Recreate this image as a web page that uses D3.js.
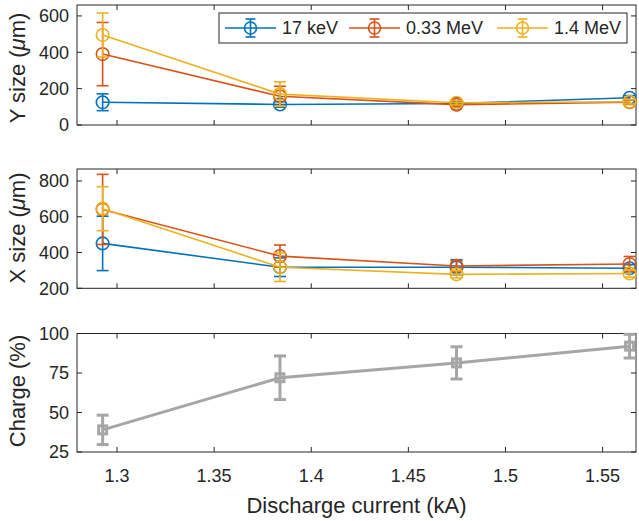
<!DOCTYPE html>
<html>
<head>
<meta charset="utf-8">
<script src="https://cdn.jsdelivr.net/npm/d3@7"></script>
<style>
  body { margin: 0; background: #fff; }
  svg { display: block; }
  text { font-family: "Liberation Sans", Arial, sans-serif; fill: #262626; }
</style>
</head>
<body>
<div id="content"></div>
<script>
// discharge current (kA)
const current = [1.2926, 1.3839, 1.4748, 1.5639];

const seriesNames = ['17 keV', '0.33 MeV', '1.4 MeV'];
const seriesColors = ['#0072BD', '#D95319', '#EDB120'];

// Y size (um)
const ySize17 = [125, 113, 118, 150];
const ySizeErr17 = [46, 15, 10, 12];
const ySize033 = [390, 158, 112, 125];
const ySizeErr033 = [174, 55, 12, 12];
const ySize14 = [495, 170, 122, 128];
const ySizeErr14 = [121, 67, 12, 12];

// X size (um)
const xSize17 = [451, 318, 318, 312];
const xSizeErr17 = [152, 52, 42, 20];
const xSize033 = [641, 380, 325, 336];
const xSizeErr033 = [196, 62, 30, 42];
const xSize14 = [645, 318, 278, 283];
const xSizeErr14 = [123, 80, 20, 20];

// charge (%)
const charge = [39, 72, 81.4, 92];
const chargeErr = [9.3, 13.8, 10.2, 7.5];

const xTicks = [1.3, 1.35, 1.4, 1.45, 1.5, 1.55];
const yTicks1 = [0, 200, 400, 600];
const yTicks2 = [200, 400, 600, 800];
const yTicks3 = [25, 50, 75, 100];

var width = 639, height = 521;
var left = 77, right = 636;

var svg = d3.select('#content')
  .append('svg')
  .attr('width', width)
  .attr('height', height);

var x = d3.scaleLinear().domain([1.2794, 1.5672]).range([left, right]);

function panel(top, bottom, domain, ticks, label, labelY, showX) {
  var y = d3.scaleLinear().domain(domain).range([bottom, top]);
  var g = svg.append('g');

  // box
  g.append('rect')
    .attr('x', left).attr('y', top)
    .attr('width', right - left).attr('height', bottom - top)
    .attr('fill', 'none').attr('stroke', '#262626').attr('stroke-width', 1);

  var tl = 5;
  // x ticks bottom + top
  xTicks.forEach(function (t) {
    g.append('line').attr('x1', x(t)).attr('x2', x(t)).attr('y1', bottom).attr('y2', bottom - tl)
      .attr('stroke', '#262626');
    g.append('line').attr('x1', x(t)).attr('x2', x(t)).attr('y1', top).attr('y2', top + tl)
      .attr('stroke', '#262626');
    if (showX) {
      g.append('text').attr('x', x(t)).attr('y', bottom + 30)
        .attr('text-anchor', 'middle').attr('font-size', 18).text(t);
    }
  });
  // y ticks left + right
  ticks.forEach(function (t) {
    g.append('line').attr('x1', left).attr('x2', left + tl).attr('y1', y(t)).attr('y2', y(t))
      .attr('stroke', '#262626');
    g.append('line').attr('x1', right).attr('x2', right - tl).attr('y1', y(t)).attr('y2', y(t))
      .attr('stroke', '#262626');
    g.append('text').attr('x', 69).attr('y', y(t)).attr('dy', '0.36em')
      .attr('text-anchor', 'end').attr('font-size', 18).text(t);
  });

  // y label
  var lab = g.append('text')
    .attr('transform', 'translate(25,' + labelY + ') rotate(-90)')
    .attr('text-anchor', 'middle').attr('font-size', 22);
  if (Array.isArray(label)) {
    lab.append('tspan').text(label[0]);
    lab.append('tspan').attr('font-style', 'italic').text('\u03bc');
    lab.append('tspan').text(label[1]);
  } else {
    lab.text(label);
  }
  return y;
}

function drawSeries(y, vals, errs, color, opts) {
  var g = svg.append('g');
  var pts = current.map(function (c, i) { return { x: c, v: vals[i], e: errs[i] }; });
  g.append('path')
    .datum(pts)
    .attr('fill', 'none')
    .attr('stroke', color)
    .attr('stroke-width', opts.lw)
    .attr('d', d3.line().x(function (d) { return x(d.x); }).y(function (d) { return y(d.v); }));

  var cap = opts.cap;
  pts.forEach(function (d) {
    var cx = x(d.x);
    g.append('line').attr('x1', cx).attr('x2', cx)
      .attr('y1', y(d.v - d.e)).attr('y2', y(d.v + d.e))
      .attr('stroke', color).attr('stroke-width', opts.lw);
    [d.v - d.e, d.v + d.e].forEach(function (v) {
      g.append('line').attr('x1', cx - cap).attr('x2', cx + cap)
        .attr('y1', y(v)).attr('y2', y(v))
        .attr('stroke', color).attr('stroke-width', opts.lw);
    });
    if (opts.square) {
      g.append('rect').attr('x', cx - 4).attr('y', y(d.v) - 4).attr('width', 8).attr('height', 8)
        .attr('fill', 'none').attr('stroke', color).attr('stroke-width', opts.lw);
    } else {
      g.append('circle').attr('cx', cx).attr('cy', y(d.v)).attr('r', 6.3)
        .attr('fill', 'none').attr('stroke', color).attr('stroke-width', opts.lw);
    }
  });
}

var circ = { lw: 1.6, cap: 6 };

var y1 = panel(5, 125, [0, 660], yTicks1, ['Y size (', 'm)'], 68, false);
drawSeries(y1, ySize17, ySizeErr17, seriesColors[0], circ);
drawSeries(y1, ySize033, ySizeErr033, seriesColors[1], circ);
drawSeries(y1, ySize14, ySizeErr14, seriesColors[2], circ);

var y2 = panel(169, 288.3, [200, 867], yTicks2, ['X size (', 'm)'], 228, false);
drawSeries(y2, xSize17, xSizeErr17, seriesColors[0], circ);
drawSeries(y2, xSize033, xSizeErr033, seriesColors[1], circ);
drawSeries(y2, xSize14, xSizeErr14, seriesColors[2], circ);

var y3 = panel(333.5, 452, [25, 100], yTicks3, 'Charge (%)', 391, true);
drawSeries(y3, charge, chargeErr, '#A6A6A6', { lw: 3, cap: 6, square: true });

svg.append('text')
  .attr('x', (left + right) / 2).attr('y', 513)
  .attr('text-anchor', 'middle').attr('font-size', 22)
  .text('Discharge current (kA)');

// legend
var legend = svg.append('g');
legend.append('rect')
  .attr('x', 219).attr('y', 13).attr('width', 408).attr('height', 30)
  .attr('fill', '#fff').attr('stroke', '#262626').attr('stroke-width', 1);
var legX = [225, 349, 497];
seriesNames.forEach(function (name, i) {
  var lx = legX[i], ly = 28, c = seriesColors[i];
  var g = legend.append('g');
  g.append('line').attr('x1', lx).attr('x2', lx + 51).attr('y1', ly).attr('y2', ly)
    .attr('stroke', c).attr('stroke-width', 1.6);
  g.append('line').attr('x1', lx + 25.5).attr('x2', lx + 25.5).attr('y1', ly - 9).attr('y2', ly + 9)
    .attr('stroke', c).attr('stroke-width', 1.6);
  [ly - 9, ly + 9].forEach(function (yy) {
    g.append('line').attr('x1', lx + 20.5).attr('x2', lx + 30.5).attr('y1', yy).attr('y2', yy)
      .attr('stroke', c).attr('stroke-width', 1.6);
  });
  g.append('circle').attr('cx', lx + 25.5).attr('cy', ly).attr('r', 6)
    .attr('fill', 'none').attr('stroke', c).attr('stroke-width', 1.6);
  g.append('text').attr('x', lx + 57).attr('y', ly).attr('dy', '0.36em')
    .attr('font-size', 18).text(name);
});
</script>
</body>
</html>
